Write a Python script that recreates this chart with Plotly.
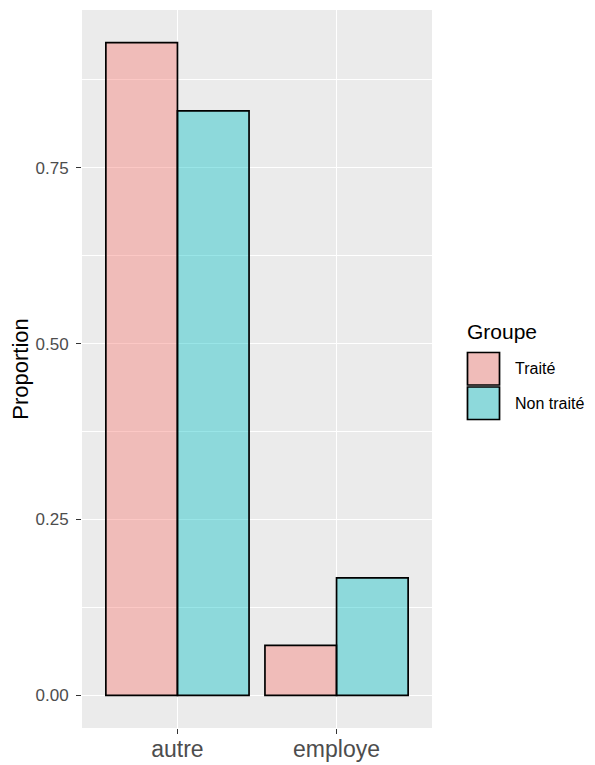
import plotly.graph_objects as go

categories = ["autre", "employe"]
groups = ["Traité", "Non traité"]
traite_values = [0.928, 0.071]
non_traite_values = [0.831, 0.167]
y_ticks = [0.0, 0.25, 0.5, 0.75]
y_tick_labels = ["0.00", "0.25", "0.50", "0.75"]
y_minor_ticks = [0.125, 0.375, 0.625, 0.875]

fills = ["rgba(248,118,109,0.4)", "rgba(0,191,196,0.4)"]
series = [traite_values, non_traite_values]

fig = go.Figure()
for name, vals, col in zip(groups, series, fills):
    fig.add_trace(go.Bar(
        x=categories, y=vals, name=name,
        marker=dict(color=col, line=dict(color="black", width=1.7)),
        showlegend=False,
    ))

OFF = 8  # page body margin in the browser
W, H = 595 - OFF, 765 - OFF
ml, mr, mt, mb = 82 - OFF, 163, 10 - OFF, 37
pw, ph = W - ml - mr, H - mt - mb


def px2x(px):
    return (px - OFF - ml) / pw


def py2y(py):
    return (H - mb - (py - OFF)) / ph


FONT = "Liberation Sans"

shapes = []
annotations = [dict(x=px2x(465), y=py2y(331), xref="paper", yref="paper",
                    text="Groupe", showarrow=False, xanchor="left", yanchor="middle",
                    font=dict(size=21, color="black", family=FONT))]
key_tops = [351.5, 386]
for i, (name, col) in enumerate(zip(groups, fills)):
    top = key_tops[i]
    bot = top + 34.5
    shapes.append(dict(type="rect", xref="paper", yref="paper",
                       x0=px2x(466.5), x1=px2x(500.5), y0=py2y(bot), y1=py2y(top),
                       fillcolor="#EBEBEB", line=dict(width=0), layer="below"))
    shapes.append(dict(type="rect", xref="paper", yref="paper",
                       x0=px2x(467.5), x1=px2x(499.5), y0=py2y(bot - 1), y1=py2y(top + 1),
                       fillcolor=col, line=dict(color="black", width=1.7)))
    annotations.append(dict(x=px2x(513), y=py2y((top + bot) / 2), xref="paper", yref="paper",
                            text=name, showarrow=False, xanchor="left", yanchor="middle",
                            font=dict(size=16, color="black", family=FONT)))

fig.update_layout(
    width=W, height=H,
    margin=dict(l=ml, r=mr, t=mt, b=mb, pad=0),
    paper_bgcolor="white", plot_bgcolor="#EBEBEB",
    barmode="group", bargap=0.1, bargroupgap=0,
    font=dict(family=FONT, color="#4D4D4D"),
    shapes=shapes, annotations=annotations,
    xaxis=dict(
        type="category", range=[-0.6, 1.6], automargin=False,
        showgrid=True, gridcolor="white", gridwidth=1.4,
        ticks="outside", ticklen=5, tickcolor="#333333", tickwidth=1.4,
        ticklabelstandoff=-5,
        tickfont=dict(size=23, color="#4D4D4D"),
        zeroline=False, showline=False,
    ),
    yaxis=dict(
        range=[-0.0464, 0.9744], automargin=False,
        tickvals=y_ticks, ticktext=y_tick_labels,
        showgrid=True, gridcolor="white", gridwidth=1.4,
        minor=dict(showgrid=True, gridcolor="white", gridwidth=0.7,
                   tickvals=y_minor_ticks),
        ticks="outside", ticklen=5, tickcolor="#333333", tickwidth=1.4,
        ticklabelstandoff=4,
        tickfont=dict(size=17, color="#4D4D4D"),
        zeroline=False, showline=False,
        title=dict(text="Proportion", font=dict(size=22, color="black"), standoff=7),
    ),
)

fig.write_html("out.html")
